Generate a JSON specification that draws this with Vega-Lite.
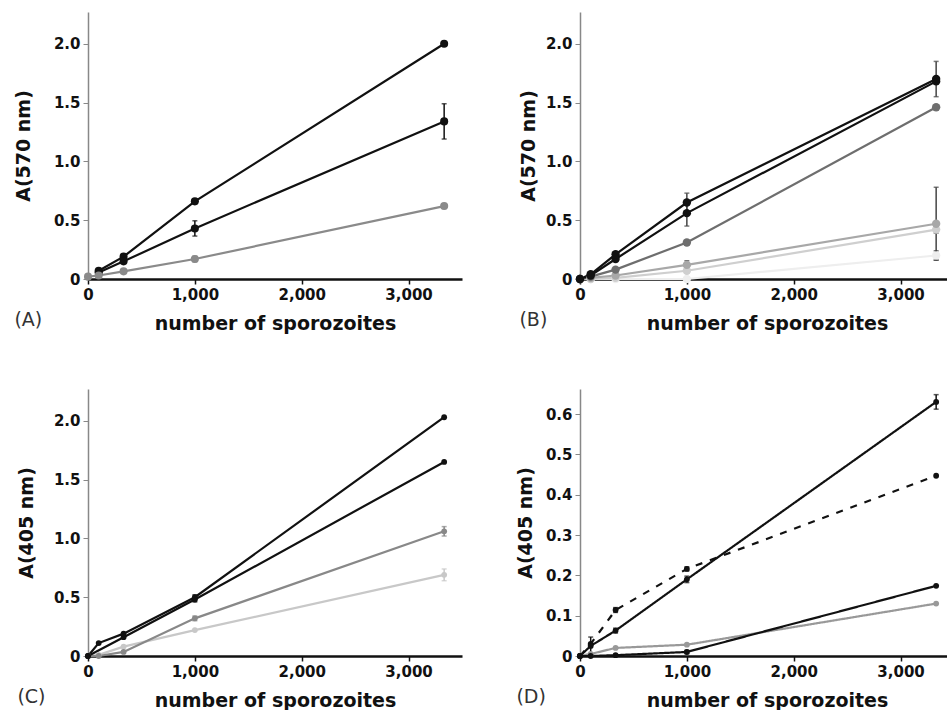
{
  "$schema": "https://vega.github.io/schema/vega-lite/v6.json",
  "padding": {"left": 14, "top": 12, "right": 0, "bottom": 0},
  "background": "white",
  "data": {"values": [
    {"panel": "A", "series": "A1", "x": 100, "y": 0.07, "err": 0},
    {"panel": "A", "series": "A1", "x": 333, "y": 0.19, "err": 0},
    {"panel": "A", "series": "A1", "x": 1000, "y": 0.66, "err": 0.02},
    {"panel": "A", "series": "A1", "x": 3333, "y": 2.0, "err": 0},
    {"panel": "A", "series": "A2", "x": 100, "y": 0.055, "err": 0},
    {"panel": "A", "series": "A2", "x": 333, "y": 0.15, "err": 0},
    {"panel": "A", "series": "A2", "x": 1000, "y": 0.43, "err": 0.065},
    {"panel": "A", "series": "A2", "x": 3333, "y": 1.34, "err": 0.15},
    {"panel": "A", "series": "A3", "x": 0, "y": 0.02, "err": 0},
    {"panel": "A", "series": "A3", "x": 100, "y": 0.03, "err": 0},
    {"panel": "A", "series": "A3", "x": 333, "y": 0.065, "err": 0.015},
    {"panel": "A", "series": "A3", "x": 1000, "y": 0.17, "err": 0.025},
    {"panel": "A", "series": "A3", "x": 3333, "y": 0.62, "err": 0.02},

    {"panel": "B", "series": "B6", "x": 100, "y": 0.0, "err": 0},
    {"panel": "B", "series": "B6", "x": 333, "y": 0.0, "err": 0},
    {"panel": "B", "series": "B6", "x": 1000, "y": 0.0, "err": 0.01},
    {"panel": "B", "series": "B6", "x": 3333, "y": 0.2, "err": 0.04},
    {"panel": "B", "series": "B5", "x": 0, "y": 0, "err": 0},
    {"panel": "B", "series": "B5", "x": 100, "y": 0.0, "err": 0},
    {"panel": "B", "series": "B5", "x": 333, "y": 0.01, "err": 0},
    {"panel": "B", "series": "B5", "x": 1000, "y": 0.07, "err": 0},
    {"panel": "B", "series": "B5", "x": 3333, "y": 0.42, "err": 0.03},
    {"panel": "B", "series": "B4", "x": 0, "y": 0, "err": 0},
    {"panel": "B", "series": "B4", "x": 100, "y": 0.01, "err": 0},
    {"panel": "B", "series": "B4", "x": 333, "y": 0.03, "err": 0},
    {"panel": "B", "series": "B4", "x": 1000, "y": 0.12, "err": 0.035},
    {"panel": "B", "series": "B4", "x": 3333, "y": 0.47, "err": 0.31},
    {"panel": "B", "series": "B3", "x": 0, "y": 0, "err": 0},
    {"panel": "B", "series": "B3", "x": 100, "y": 0.02, "err": 0},
    {"panel": "B", "series": "B3", "x": 333, "y": 0.08, "err": 0},
    {"panel": "B", "series": "B3", "x": 1000, "y": 0.31, "err": 0.02},
    {"panel": "B", "series": "B3", "x": 3333, "y": 1.46, "err": 0.02},
    {"panel": "B", "series": "B2", "x": 0, "y": 0, "err": 0},
    {"panel": "B", "series": "B2", "x": 100, "y": 0.03, "err": 0},
    {"panel": "B", "series": "B2", "x": 333, "y": 0.17, "err": 0},
    {"panel": "B", "series": "B2", "x": 1000, "y": 0.56, "err": 0.11},
    {"panel": "B", "series": "B2", "x": 3333, "y": 1.68, "err": 0},
    {"panel": "B", "series": "B1", "x": 0, "y": 0, "err": 0},
    {"panel": "B", "series": "B1", "x": 100, "y": 0.04, "err": 0},
    {"panel": "B", "series": "B1", "x": 333, "y": 0.21, "err": 0},
    {"panel": "B", "series": "B1", "x": 1000, "y": 0.65, "err": 0.08},
    {"panel": "B", "series": "B1", "x": 3333, "y": 1.7, "err": 0.15},

    {"panel": "C", "series": "C4", "x": 0, "y": 0, "err": 0},
    {"panel": "C", "series": "C4", "x": 100, "y": 0.01, "err": 0},
    {"panel": "C", "series": "C4", "x": 333, "y": 0.08, "err": 0},
    {"panel": "C", "series": "C4", "x": 1000, "y": 0.22, "err": 0},
    {"panel": "C", "series": "C4", "x": 3333, "y": 0.69, "err": 0.05},
    {"panel": "C", "series": "C3", "x": 0, "y": 0, "err": 0},
    {"panel": "C", "series": "C3", "x": 100, "y": 0.0, "err": 0},
    {"panel": "C", "series": "C3", "x": 333, "y": 0.035, "err": 0.01},
    {"panel": "C", "series": "C3", "x": 1000, "y": 0.32, "err": 0.02},
    {"panel": "C", "series": "C3", "x": 3333, "y": 1.06, "err": 0.04},
    {"panel": "C", "series": "C2", "x": 0, "y": 0, "err": 0},
    {"panel": "C", "series": "C2", "x": 333, "y": 0.16, "err": 0},
    {"panel": "C", "series": "C2", "x": 1000, "y": 0.48, "err": 0.02},
    {"panel": "C", "series": "C2", "x": 3333, "y": 1.65, "err": 0},
    {"panel": "C", "series": "C1", "x": 0, "y": 0, "err": 0},
    {"panel": "C", "series": "C1", "x": 100, "y": 0.11, "err": 0},
    {"panel": "C", "series": "C1", "x": 333, "y": 0.19, "err": 0},
    {"panel": "C", "series": "C1", "x": 1000, "y": 0.5, "err": 0.02},
    {"panel": "C", "series": "C1", "x": 3333, "y": 2.03, "err": 0},

    {"panel": "D", "series": "D4", "x": 0, "y": 0, "err": 0},
    {"panel": "D", "series": "D4", "x": 100, "y": 0.005, "err": 0},
    {"panel": "D", "series": "D4", "x": 333, "y": 0.02, "err": 0},
    {"panel": "D", "series": "D4", "x": 1000, "y": 0.028, "err": 0},
    {"panel": "D", "series": "D4", "x": 3333, "y": 0.13, "err": 0},
    {"panel": "D", "series": "D3", "x": 0, "y": 0, "err": 0},
    {"panel": "D", "series": "D3", "x": 100, "y": 0.0, "err": 0},
    {"panel": "D", "series": "D3", "x": 333, "y": 0.002, "err": 0},
    {"panel": "D", "series": "D3", "x": 1000, "y": 0.01, "err": 0.004},
    {"panel": "D", "series": "D3", "x": 3333, "y": 0.174, "err": 0},
    {"panel": "D", "series": "D2", "x": 0, "y": 0, "err": 0},
    {"panel": "D", "series": "D2", "x": 100, "y": 0.03, "err": 0},
    {"panel": "D", "series": "D2", "x": 333, "y": 0.114, "err": 0.006},
    {"panel": "D", "series": "D2", "x": 1000, "y": 0.216, "err": 0.005},
    {"panel": "D", "series": "D2", "x": 3333, "y": 0.447, "err": 0},
    {"panel": "D", "series": "D1", "x": 0, "y": 0, "err": 0},
    {"panel": "D", "series": "D1", "x": 100, "y": 0.025, "err": 0.022},
    {"panel": "D", "series": "D1", "x": 333, "y": 0.063, "err": 0.006},
    {"panel": "D", "series": "D1", "x": 1000, "y": 0.19, "err": 0.008},
    {"panel": "D", "series": "D1", "x": 3333, "y": 0.63, "err": 0.018}
  ]},
  "vconcat": [
    {
      "hconcat": [
        {
          "width": 374, "height": 267,
          "transform": [{"filter": "datum.panel == 'A'"}],
          "title": {"text": "(A)", "orient": "bottom", "anchor": "start", "frame": "bounds", "offset": -22},
          "encoding": {
            "x": {"field": "x", "type": "quantitative", "scale": {"domain": [0, 3500], "nice": false},
                  "axis": {"title": "number of sporozoites", "values": [0, 1000, 2000, 3000], "format": ",d"}},
            "y": {"field": "y", "type": "quantitative", "scale": {"domain": [0, 2.27], "nice": false},
                  "axis": {"title": "A(570 nm)", "values": [0, 0.5, 1, 1.5, 2], "labelExpr": "datum.value == 0 ? '0' : format(datum.value, '.1f')", "titlePadding": 20}},
            "color": {"field": "series", "type": "nominal", "legend": null,
                      "scale": {"domain": ["A1","A2","A3","B1","B2","B3","B4","B5","B6","C1","C2","C3","C4","D1","D2","D3","D4"],
                                "range": ["#111111","#111111","#8a8a8a","#111111","#111111","#6e6e6e","#a8a8a8","#cfcfcf","#eeeeee","#111111","#111111","#888888","#c8c8c8","#111111","#111111","#111111","#999999"]}}
          },
          "layer": [
            {"mark": {"type": "line", "strokeWidth": 2.2}},
            {"transform": [{"filter": "datum.err > 0"}],
             "mark": {"type": "errorbar", "ticks": true, "thickness": 1.5},
             "encoding": {"yError": {"field": "err"}}},
            {"mark": {"type": "point", "filled": true, "opacity": 1, "size": 65}}
          ]
        },
        {
          "width": 374, "height": 267,
          "transform": [{"filter": "datum.panel == 'B'"}],
          "title": {"text": "(B)", "orient": "bottom", "anchor": "start", "frame": "bounds", "offset": -22},
          "encoding": {
            "x": {"field": "x", "type": "quantitative", "scale": {"domain": [0, 3500], "nice": false},
                  "axis": {"title": "number of sporozoites", "values": [0, 1000, 2000, 3000], "format": ",d"}},
            "y": {"field": "y", "type": "quantitative", "scale": {"domain": [0, 2.27], "nice": false},
                  "axis": {"title": "A(570 nm)", "values": [0, 0.5, 1, 1.5, 2], "labelExpr": "datum.value == 0 ? '0' : format(datum.value, '.1f')", "titlePadding": 7}},
            "color": {"field": "series", "type": "nominal", "legend": null,
                      "scale": {"domain": ["A1","A2","A3","B1","B2","B3","B4","B5","B6","C1","C2","C3","C4","D1","D2","D3","D4"],
                                "range": ["#111111","#111111","#8a8a8a","#111111","#111111","#6e6e6e","#a8a8a8","#cfcfcf","#eeeeee","#111111","#111111","#888888","#c8c8c8","#111111","#111111","#111111","#999999"]}}
          },
          "layer": [
            {"mark": {"type": "line", "strokeWidth": 2.2}},
            {"transform": [{"filter": "datum.err > 0"}],
             "mark": {"type": "errorbar", "ticks": true, "thickness": 1.5, "color": "#333333"},
             "encoding": {"yError": {"field": "err"}, "color": {"value": "#444444"}}},
            {"mark": {"type": "point", "filled": true, "opacity": 1, "size": 70}}
          ]
        }
      ],
      "spacing": 57
    },
    {
      "hconcat": [
        {
          "width": 374, "height": 267,
          "transform": [{"filter": "datum.panel == 'C'"}],
          "title": {"text": "(C)", "orient": "bottom", "anchor": "start", "frame": "bounds", "offset": -22},
          "encoding": {
            "x": {"field": "x", "type": "quantitative", "scale": {"domain": [0, 3500], "nice": false},
                  "axis": {"title": "number of sporozoites", "values": [0, 1000, 2000, 3000], "format": ",d"}},
            "y": {"field": "y", "type": "quantitative", "scale": {"domain": [0, 2.27], "nice": false},
                  "axis": {"title": "A(405 nm)", "values": [0, 0.5, 1, 1.5, 2], "labelExpr": "datum.value == 0 ? '0' : format(datum.value, '.1f')", "titlePadding": 17}},
            "color": {"field": "series", "type": "nominal", "legend": null,
                      "scale": {"domain": ["A1","A2","A3","B1","B2","B3","B4","B5","B6","C1","C2","C3","C4","D1","D2","D3","D4"],
                                "range": ["#111111","#111111","#8a8a8a","#111111","#111111","#6e6e6e","#a8a8a8","#cfcfcf","#eeeeee","#111111","#111111","#888888","#c8c8c8","#111111","#111111","#111111","#999999"]}}
          },
          "layer": [
            {"mark": {"type": "line", "strokeWidth": 2.2}},
            {"transform": [{"filter": "datum.err > 0"}],
             "mark": {"type": "errorbar", "ticks": true, "thickness": 1.5},
             "encoding": {"yError": {"field": "err"}}},
            {"mark": {"type": "point", "filled": true, "opacity": 1, "size": 34}}
          ]
        },
        {
          "width": 374, "height": 267,
          "transform": [{"filter": "datum.panel == 'D'"}],
          "title": {"text": "(D)", "orient": "bottom", "anchor": "start", "frame": "bounds", "offset": -22},
          "encoding": {
            "x": {"field": "x", "type": "quantitative", "scale": {"domain": [0, 3500], "nice": false},
                  "axis": {"title": "number of sporozoites", "values": [0, 1000, 2000, 3000], "format": ",d"}},
            "y": {"field": "y", "type": "quantitative", "scale": {"domain": [0, 0.662], "nice": false},
                  "axis": {"title": "A(405 nm)", "values": [0, 0.1, 0.2, 0.3, 0.4, 0.5, 0.6], "labelExpr": "datum.value == 0 ? '0' : format(datum.value, '.1f')", "titlePadding": 10}},
            "color": {"field": "series", "type": "nominal", "legend": null,
                      "scale": {"domain": ["A1","A2","A3","B1","B2","B3","B4","B5","B6","C1","C2","C3","C4","D1","D2","D3","D4"],
                                "range": ["#111111","#111111","#8a8a8a","#111111","#111111","#6e6e6e","#a8a8a8","#cfcfcf","#eeeeee","#111111","#111111","#888888","#c8c8c8","#111111","#111111","#111111","#999999"]}}
          },
          "layer": [
            {"mark": {"type": "line", "strokeWidth": 2.2},
             "encoding": {"strokeDash": {"field": "series", "type": "nominal", "legend": null,
                          "scale": {"domain": ["D1", "D2", "D3", "D4"], "range": [[1, 0], [7, 8], [1, 0], [1, 0]]}}}},
            {"transform": [{"filter": "datum.err > 0"}],
             "mark": {"type": "errorbar", "ticks": true, "thickness": 1.5},
             "encoding": {"yError": {"field": "err"}}},
            {"mark": {"type": "point", "filled": true, "opacity": 1, "size": 34}}
          ]
        }
      ],
      "spacing": 54
    }
  ],
  "spacing": 56,
  "config": {
    "view": {"stroke": null},
    "font": "DejaVu Sans",
    "axis": {"grid": false, "labelFont": "DejaVu Sans", "labelFontSize": 15, "labelFontWeight": "bold", "labelColor": "#111111",
             "titleFont": "DejaVu Sans", "titleFontSize": 19, "titleFontWeight": "bold", "titleColor": "#111111", "tickSize": 5, "labelPadding": 3},
    "axisX": {"domainColor": "#111111", "domainWidth": 2.5, "tickColor": "#111111", "tickWidth": 1.5, "titlePadding": 12, "labelFlush": false},
    "axisY": {"domainColor": "#888888", "domainWidth": 1.5, "tickColor": "#888888", "tickWidth": 1},
    "title": {"font": "DejaVu Sans", "fontSize": 19, "fontWeight": "normal", "color": "#333333"}
  }
}
